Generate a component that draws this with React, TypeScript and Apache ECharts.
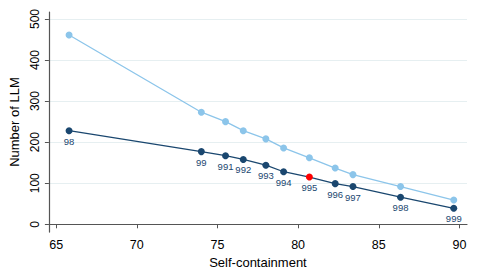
import React, { useEffect, useRef } from "react";
import * as echarts from "echarts";

const xValues = [65.8, 74.0, 75.5, 76.6, 78.0, 79.1, 80.7, 82.3, 83.4, 86.35, 89.65];
const lightValues = [461, 273, 250, 228, 208, 186, 162, 137, 121, 92, 59];
const darkValues = [228, 177, 167, 158, 144, 128, 115, 99, 92, 66, 39];
const pointLabels = ["98", "99", "991", "992", "993", "994", "995", "996", "997", "998", "999"];
const highlightLabel = "995";
const xTicks = [65, 70, 75, 80, 85, 90];
const yTicks = [0, 100, 200, 300, 400, 500];

const LIGHT = "#8cc5ea";
const DARK = "#1a476f";
const RED = "#ff0000";
const FONT = "Liberation Sans, Arial, sans-serif";

export default function App() {
  const ref = useRef<HTMLDivElement>(null);
  useEffect(() => {
    if (!ref.current) return;
    const chart = echarts.init(ref.current, null, { renderer: "svg" });
    const lightData = xValues.map((x, i) => [x, lightValues[i]]);
    const darkData = xValues.map((x, i) => ({
      value: [x, darkValues[i]],
      label: pointLabels[i],
      itemStyle: { color: pointLabels[i] === highlightLabel ? RED : DARK },
    }));
    chart.setOption({
      animation: false,
      backgroundColor: "#ffffff",
      textStyle: { fontFamily: FONT },
      grid: { left: 47, right: 12, top: 12, bottom: 37, containLabel: false },
      xAxis: {
        type: "value",
        min: 64.55,
        max: 90.47,
        name: "Self-containment",
        nameLocation: "middle",
        nameGap: 18,
        nameTextStyle: { fontSize: 13, color: "#000", fontFamily: FONT },
        axisLine: { show: true, lineStyle: { color: "#555", width: 1.2 } },
        axisTick: { show: true, length: 4, customValues: xTicks, lineStyle: { color: "#555" } },
        axisLabel: { customValues: xTicks, fontSize: 12.5, color: "#000", margin: 6, fontFamily: FONT },
        splitLine: { show: false },
      },
      yAxis: {
        type: "value",
        min: -19,
        max: 517,
        name: "Number of LLM",
        nameLocation: "middle",
        nameGap: 21,
        nameRotate: 90,
        nameTextStyle: { fontSize: 13, color: "#000", fontFamily: FONT },
        axisLine: { show: true, lineStyle: { color: "#555", width: 1.2 } },
        axisTick: { show: true, length: 4, customValues: yTicks, lineStyle: { color: "#555" } },
        axisLabel: { customValues: yTicks, rotate: 90, fontSize: 12, color: "#000", margin: 8, fontFamily: FONT },
        splitLine: { show: true, lineStyle: { color: "#e6eff1", width: 1.2 } },
      },
      series: [
        {
          type: "line",
          data: lightData,
          symbol: "circle",
          symbolSize: 7,
          lineStyle: { color: LIGHT, width: 1.3 },
          itemStyle: { color: LIGHT },
          z: 2,
        },
        {
          type: "line",
          data: darkData,
          symbol: "circle",
          symbolSize: 7,
          lineStyle: { color: DARK, width: 1.3 },
          itemStyle: { color: DARK },
          label: {
            show: true,
            position: "bottom",
            distance: 2,
            fontSize: 9.5,
            color: DARK,
            fontFamily: FONT,
            formatter: (p: any) => p.data.label,
          },
          z: 3,
        },
      ],
    });
    return () => chart.dispose();
  }, []);
  return (
    <div
      ref={ref}
      style={{ position: "absolute", left: 0, top: 0, width: 479, height: 274 }}
    />
  );
}
